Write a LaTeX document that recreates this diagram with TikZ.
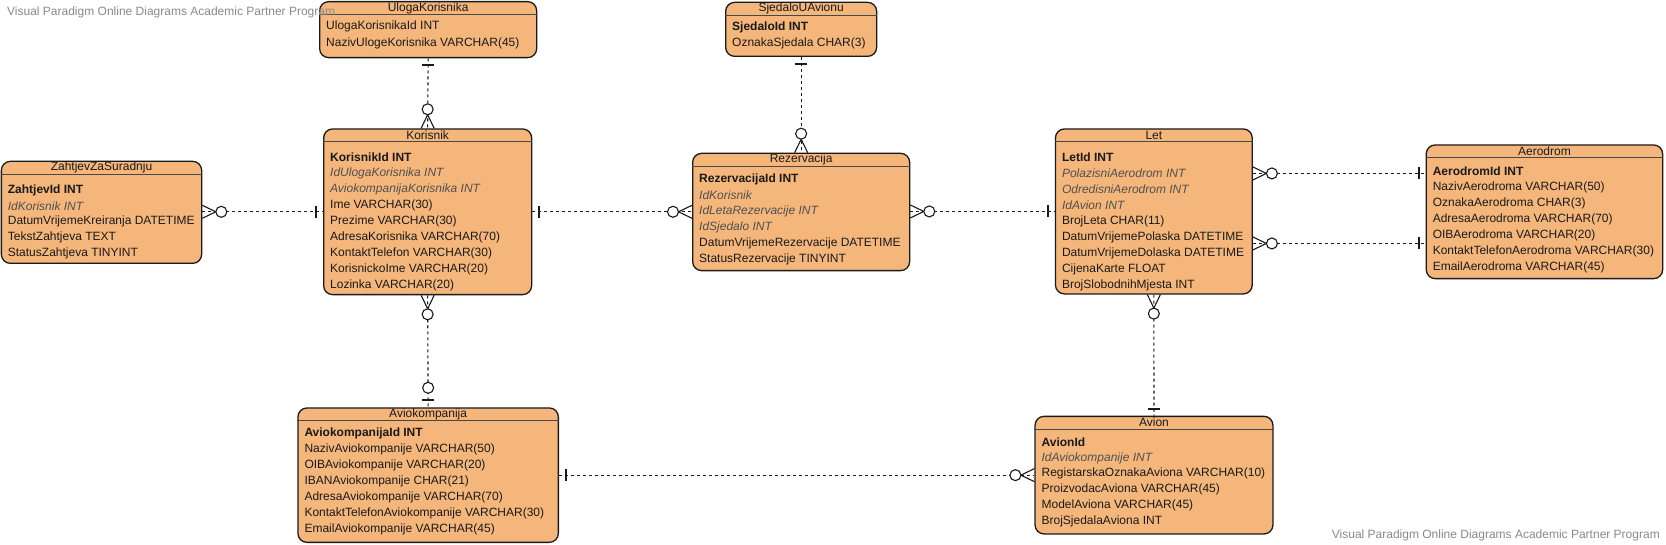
\documentclass[tikz,border=0pt]{standalone}
\usepackage{fontspec}
\setmainfont{Liberation Sans}
\usetikzlibrary{calc}
\definecolor{entfill}{HTML}{F4B67B}
\definecolor{entline}{HTML}{1A1A1A}
\definecolor{txtdark}{HTML}{1A1A1A}
\definecolor{txtgray}{HTML}{505050}
\definecolor{wmgray}{HTML}{8A8A8A}
\tikzset{
  entbox/.style={draw=entline, line width=1.3pt, fill=entfill, rounded corners=9pt, inner sep=0pt, rectangle},
  sepline/.style={draw=entline!80, line width=1pt},
  titletext/.style={inner sep=0pt, font=\fontsize{12}{14}\selectfont, text=txtdark},
  rowtext/.style={inner sep=0pt, anchor=west, font=\fontsize{12}{14}\selectfont, text=txtdark},
  conn/.style={draw=entline, line width=1.1pt, dash pattern=on 3pt off 3pt},
  cardmark/.style={draw=entline, line width=1.1pt, solid},
  wmtext/.style={inner sep=0pt, font=\fontsize{12}{14}\selectfont, text=wmgray}
}
\newcommand\ital[1]{{\color{txtgray}\itshape #1}}
\newcommand\bfrow[1]{{\bfseries #1}}
% #1 name #2 x #3 y #4 w #5 h #6 title #7 first row offset #8 spacing #9 rows
\newcommand\entity[9]{%
  \node[entbox, minimum width=#4pt, minimum height=#5pt, anchor=north west] (#1) at (#2,#3) {};
  \draw[sepline] ([yshift=-13.5pt]#1.north west) -- ([yshift=-13.5pt]#1.north east);
  \node[titletext] (#1-t) at ([yshift=-7pt]#1.north) {#6};
  \foreach \txt [count=\i] in {#9} {
    \pgfmathsetmacro\yy{#7+(\i-1)*#8}
    \node[rowtext] (#1-r\i) at ($(#1.north west)+(7,\yy)$) {\txt};
  }
}
% markers: #1 point, #2 angle (outward direction)
\newcommand\mkmany[2]{%
  \begin{scope}[shift={(#1)}, rotate=#2]
    \draw[cardmark] (0,6.5) -- (13.5,0) -- (0,-6.5);
    \draw[cardmark, fill=white] (19,0) circle[radius=5.5pt];
  \end{scope}}
\newcommand\mkone[2]{%
  \begin{scope}[shift={(#1)}, rotate=#2]
    \draw[cardmark, line width=1.8pt] (7,6) -- (7,-6);
  \end{scope}}
\newcommand\mkzeroone[2]{%
  \begin{scope}[shift={(#1)}, rotate=#2]
    \draw[cardmark, line width=1.8pt] (7,6) -- (7,-6);
    \draw[cardmark, fill=white] (19.5,0) circle[radius=5.5pt];
  \end{scope}}
\begin{document}
\begin{tikzpicture}[x=1pt, y=-1pt]
\useasboundingbox (0,0) rectangle (1666,545);
\fill[white] (0,0) rectangle (1666,545);

\entity{ul}{319}{1}{217}{56}{UlogaKorisnika}{25.5}{17}{{UlogaKorisnikaId INT},{NazivUlogeKorisnika VARCHAR(45)}}
\entity{sj}{725}{1.7}{151}{54}{SjedaloUAvionu}{25.6}{16}{{\bfrow{SjedaloId INT}},{OznakaSjedala CHAR(3)}}
\entity{rez}{692}{152.7}{217}{117.3}{Rezervacija}{26.3}{16}{{\bfrow{RezervacijaId INT}},{\ital{IdKorisnik}},{\ital{IdLetaRezervacije INT}},{\ital{IdSjedalo INT}},{DatumVrijemeRezervacije DATETIME},{StatusRezervacije TINYINT}}
\entity{kor}{323}{128.3}{208}{165.7}{Korisnik}{29}{15.95}{{\bfrow{KorisnikId INT}},{\ital{IdUlogaKorisnika INT}},{\ital{AviokompanijaKorisnika INT}},{Ime VARCHAR(30)},{Prezime VARCHAR(30)},{AdresaKorisnika VARCHAR(70)},{KontaktTelefon VARCHAR(30)},{KorisnickoIme VARCHAR(20)},{Lozinka VARCHAR(20)}}
\entity{zah}{0.7}{160.7}{200.3}{102}{ZahtjevZaSuradnju}{29.3}{15.85}{{\bfrow{ZahtjevId INT}},{\ital{IdKorisnik INT}},{DatumVrijemeKreiranja DATETIME},{TekstZahtjeva TEXT},{StatusZahtjeva TINYINT}}
\entity{avk}{297.3}{407.3}{260.4}{134.4}{Aviokompanija}{26.4}{16}{{\bfrow{AviokompanijaId INT}},{NazivAviokompanije VARCHAR(50)},{OIBAviokompanije VARCHAR(20)},{IBANAviokompanije CHAR(21)},{AdresaAviokompanije VARCHAR(70)},{KontaktTelefonAviokompanije VARCHAR(30)},{EmailAviokompanije VARCHAR(45)}}
\entity{let}{1054.8}{128.3}{196.8}{165}{Let}{29.4}{15.9}{{\bfrow{LetId INT}},{\ital{PolazisniAerodrom INT}},{\ital{OdredisniAerodrom INT}},{\ital{IdAvion INT}},{BrojLeta CHAR(11)},{DatumVrijemePolaska DATETIME},{DatumVrijemeDolaska DATETIME},{CijenaKarte FLOAT},{BrojSlobodnihMjesta INT}}
\entity{aer}{1425.6}{144.3}{236.4}{133.7}{Aerodrom}{26.7}{16}{{\bfrow{AerodromId INT}},{NazivAerodroma VARCHAR(50)},{OznakaAerodroma CHAR(3)},{AdresaAerodroma VARCHAR(70)},{OIBAerodroma VARCHAR(20)},{KontaktTelefonAerodroma VARCHAR(30)},{EmailAerodroma VARCHAR(45)}}
\entity{av}{1034.4}{415.7}{237.9}{117.6}{Avion}{26.3}{15.9}{{\bfrow{AvionId}},{\ital{IdAviokompanije INT}},{RegistarskaOznakaAviona VARCHAR(10)},{ProizvodacAviona VARCHAR(45)},{ModelAviona VARCHAR(45)},{BrojSjedalaAviona INT}}

% connector end points
\coordinate (zahE) at (kor.west -| zah.east);
\coordinate (korE) at (kor.east);
\coordinate (rezW) at (kor.east -| rez.west);
\coordinate (rezE) at (let.west -| rez.east);
\coordinate (letA1) at ([yshift=38pt]let.east);
\coordinate (letA2) at ([yshift=-32pt]let.east);
\coordinate (aerW1) at (letA1 -| aer.west);
\coordinate (aerW2) at (letA2 -| aer.west);
\coordinate (avW) at (avk.east -| av.west);

\draw[conn] (ul.south) -- (kor.north);
\draw[conn] (sj.south) -- (rez.north);
\draw[conn] (zahE) -- (kor.west);
\draw[conn] (korE) -- (rezW);
\draw[conn] (rezE) -- (let.west);
\draw[conn] (letA1) -- (aerW1);
\draw[conn] (letA2) -- (aerW2);
\draw[conn] (let.south) -- (av.north);
\draw[conn] (kor.south) -- (avk.north);
\draw[conn] (avk.east) -- (avW);

\mkone{ul.south}{-90}
\mkmany{kor.north}{90}
\mkone{sj.south}{-90}
\mkmany{rez.north}{90}
\mkmany{zahE}{0}
\mkone{kor.west}{180}
\mkone{korE}{0}
\mkmany{rezW}{180}
\mkmany{rezE}{0}
\mkone{let.west}{180}
\mkmany{letA1}{0}
\mkmany{letA2}{0}
\mkone{aerW1}{180}
\mkone{aerW2}{180}
\mkmany{let.south}{-90}
\mkone{av.north}{90}
\mkmany{kor.south}{-90}
\mkzeroone{avk.north}{90}
\mkone{avk.east}{0}
\mkmany{avW}{180}

\node[wmtext, anchor=west] (wm1) at (7,12.5) {Visual Paradigm Online Diagrams Academic Partner Program};
\node[wmtext, anchor=east] (wm2) at (1660,535) {Visual Paradigm Online Diagrams Academic Partner Program};
\end{tikzpicture}
\end{document}
